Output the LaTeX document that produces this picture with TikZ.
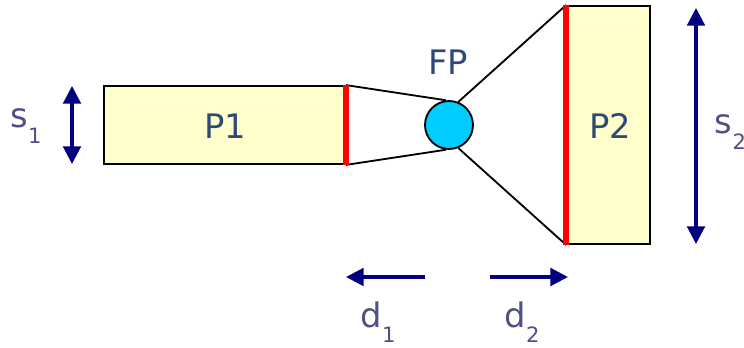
\documentclass[tikz,border=0pt]{standalone}
\usepackage{fontspec}
\setmainfont{DejaVu Sans}
\usepackage{xcolor}
\usetikzlibrary{arrows.meta}

\definecolor{padfill}{RGB}{255,255,204}
\definecolor{fpfill}{RGB}{0,204,255}
\definecolor{dimcol}{RGB}{0,0,128}
\definecolor{namecol}{RGB}{47,72,120}
\definecolor{symcol}{RGB}{80,80,135}

\newcommand{\sublbl}[2]{#1\raisebox{-0.45em}{\fontsize{15}{16}\selectfont #2}}

\begin{document}
\begin{tikzpicture}[x=0.025cm, y=-0.025cm,
    pad/.style={draw=black, line width=1.3pt, fill=padfill, inner sep=0pt},
    dimarrow/.style={dimcol, line width=2.2pt, -{Triangle[width=12.5pt, length=12.5pt]}},
    dimboth/.style={dimarrow, {Triangle[width=12.5pt, length=12.5pt]}-{Triangle[width=12.5pt, length=12.5pt]}},
    bigtext/.style={font=\fontsize{24}{28}\selectfont}]
      \useasboundingbox (0,0) rectangle (744,348);

      % --- the two pads and the focal point ---
      \node[pad, minimum width=241*0.025cm, minimum height=78*0.025cm] (p1) at (224.5,125) {};
      \node[pad, minimum width=83*0.025cm, minimum height=238*0.025cm] (p2) at (608.5,125) {};
      \node[draw=black, line width=1.3pt, fill=fpfill, circle, minimum size=48*0.025cm, inner sep=0pt] (fp) at (449,125) {};

      % --- rays from pad edges to FP ---
      \draw[line width=1.3pt] (p1.north east) -- (fp.97);
      \draw[line width=1.3pt] (p1.south east) -- (fp.-97);
      \draw[line width=1.3pt] (fp.68) -- (p2.north west);
      \draw[line width=1.3pt] (fp.-68) -- (p2.south west);

      % --- red aperture edges ---
      \draw[red, line width=4pt] (p1.north east) -- (p1.south east);
      \draw[red, line width=4pt] (p2.north west) -- (p2.south west);

      % --- names ---
      \node[namecol, bigtext] (p1name) at (225,126) {P1};
      \node[namecol, bigtext] (p2name) at (610,126) {P2};
      \node[namecol, bigtext] (fpname) at (448,62) {FP};

      % --- size arrows s_1, s_2 ---
      \coordinate (s1top) at (72,86);
      \coordinate (s1bot) at (72,164);
      \draw[dimboth] (s1top) -- (s1bot);
      \node[symcol, bigtext] (s1) at (26,126) {\sublbl{s}{1}};

      \coordinate (s2top) at (696,8);
      \coordinate (s2bot) at (696,244);
      \draw[dimboth] (s2top) -- (s2bot);
      \node[symcol, bigtext, anchor=west] (s2) at (710,132) {\sublbl{s}{2}};

      % --- distance arrows d_1, d_2 ---
      \coordinate (d1start) at (425,277);
      \coordinate (d1end) at (346,277);
      \draw[dimarrow] (d1start) -- (d1end);
      \node[symcol, bigtext] (d1) at (378,322) {\sublbl{d}{1}};

      \coordinate (d2start) at (490,277);
      \coordinate (d2end) at (568,277);
      \draw[dimarrow] (d2start) -- (d2end);
      \node[symcol, bigtext] (d2) at (522,322) {\sublbl{d}{2}};
    \end{tikzpicture}
\end{document}
